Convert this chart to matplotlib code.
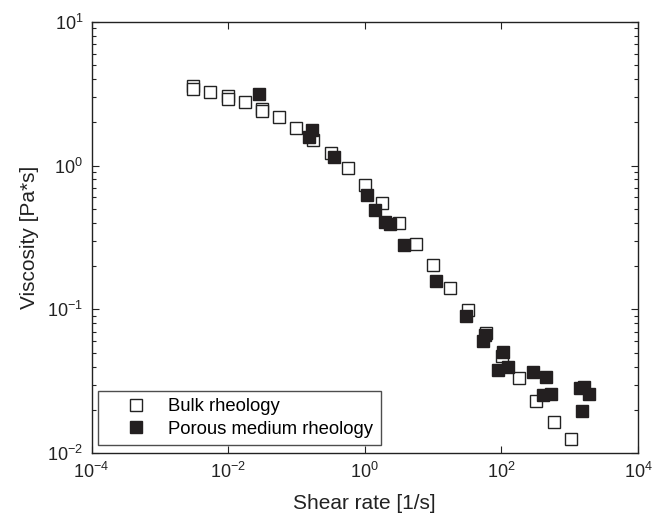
import numpy as np
import matplotlib
matplotlib.use("Agg")
import matplotlib.pyplot as plt
from matplotlib.ticker import LogLocator, NullFormatter, NullLocator

plt.rcParams['font.family'] = ['Liberation Sans', 'DejaVu Sans']
plt.rcParams['mathtext.fontset'] = 'custom'
plt.rcParams['mathtext.rm'] = 'Liberation Sans'
plt.rcParams['mathtext.it'] = 'Liberation Sans'

# bulk rheology (open squares)
bulk_rate = [3.09e-3, 3.09e-3, 5.48e-3, 9.8e-3, 9.8e-3, 1.77e-2, 3.10e-2, 3.10e-2,
             5.56e-2, 9.86e-2, 0.1766, 0.318, 0.564, 1.01, 1.79, 3.18, 5.64, 10.1,
             17.9, 32.5, 59.1, 101, 182, 322, 585, 1038]
bulk_visc = [3.56, 3.41, 3.22, 3.03, 2.91, 2.77, 2.48, 2.40,
             2.16, 1.83, 1.50, 1.22, 0.956, 0.731, 0.546, 0.396, 0.286, 0.203,
             0.142, 0.0993, 0.0687, 0.0473, 0.0331, 0.0231, 0.0165, 0.0125]

# porous medium rheology (filled squares)
por_rate = [2.86e-2, 0.1675, 0.1545, 0.356, 1.09, 1.42, 2.00, 2.34, 3.72, 10.96,
            30.1, 57.7, 54.5, 106, 90.4, 124, 288, 452, 408, 529,
            1419, 1625, 1923, 1520]
por_visc = [3.13, 1.77, 1.57, 1.14, 0.624, 0.493, 0.403, 0.392, 0.280, 0.158,
            0.0894, 0.0662, 0.0605, 0.0505, 0.0378, 0.0397, 0.0365, 0.0337, 0.0255, 0.0258,
            0.0285, 0.0287, 0.0258, 0.0197]

fig = plt.figure(figsize=(6.66, 5.2), dpi=100)
ax = fig.add_axes([0.1374, 0.1283, 0.8206, 0.830])

ms = 8.2
ax.plot(bulk_rate, bulk_visc, 's', ms=ms, mfc='white', mec='#222222', mew=1.0,
        label='Bulk rheology', zorder=3)
ax.plot(por_rate, por_visc, 's', ms=ms, mfc='#231f20', mec='#231f20', mew=1.0,
        label='Porous medium rheology', zorder=4)

ax.set_xscale('log')
ax.set_yscale('log')
ax.set_xlim(1e-4, 1e4)
ax.set_ylim(1e-2, 1e1)

ax.set_xticks([1e-4, 1e-2, 1e0, 1e2, 1e4])
ax.set_xticklabels([r'$10^{-4}$', r'$10^{-2}$', r'$10^{0}$', r'$10^{2}$', r'$10^{4}$'])
ax.xaxis.set_minor_locator(NullLocator())
ax.set_yticks([1e-2, 1e-1, 1e0, 1e1])
ax.set_yticklabels([r'$10^{-2}$', r'$10^{-1}$', r'$10^{0}$', r'$10^{1}$'])
ax.yaxis.set_minor_locator(LogLocator(base=10, subs=np.arange(2, 10)))
ax.yaxis.set_minor_formatter(NullFormatter())

ax.tick_params(which='both', direction='in', top=True, right=True, labelsize=13,
               width=0.8, colors='#222222', labelcolor='#222222')
ax.tick_params(which='major', length=5, pad=6)
ax.tick_params(which='minor', length=3)
for s in ax.spines.values():
    s.set_linewidth(1.0)
    s.set_color('#222222')

ax.set_xlabel('Shear rate [1/s]', fontsize=15, color='#222222', labelpad=9)
ax.set_ylabel('Viscosity [Pa*s]', fontsize=15, color='#222222', labelpad=6)

leg = ax.legend(loc='lower left', bbox_to_anchor=(0.0124, 0.019), fontsize=13.3,
                frameon=True, fancybox=False, edgecolor='#222222', borderpad=0.4,
                handletextpad=0.1, handlelength=3.3, labelspacing=0.3,
                borderaxespad=0)
leg.get_frame().set_linewidth(1.0)

fig.savefig('out.png', dpi=100)
